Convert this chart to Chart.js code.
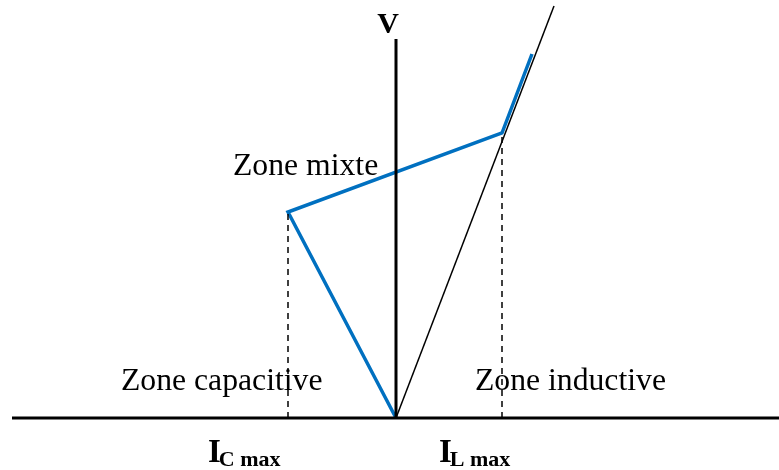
<!DOCTYPE html>
<html>
<head>
<meta charset="utf-8">
<script src="https://cdn.jsdelivr.net/npm/chart.js@4"></script>
<style>
  body { margin: 0; background: #fff; }
  #wrap { width: 779px; height: 470px; }
</style>
</head>
<body>
<div id="wrap"><canvas id="svc"></canvas></div>
<script>
// units: I (horizontal) and V (vertical), origin at the axes crossing
const characteristic = [
  { x: 0, y: 0 },
  { x: -1.08, y: 2.06 },
  { x: 1.06, y: 2.85 },
  { x: 1.36, y: 3.64 },
];
const inductorLine = [{ x: 0, y: 0 }, { x: 1.58, y: 4.12 }];
const iCmax = -1.08;
const iLmax = 1.06;
const vAtICmax = 2.06;
const vAtILmax = 2.85;
const iAxis = [{ x: -3.84, y: 0 }, { x: 3.83, y: 0 }];
const vAxis = [{ x: 0, y: 0 }, { x: 0, y: 3.79 }];

const zoneLabels = [
  { text: "Zone mixte", x: -1.63, y: 2.43 },
  { text: "Zone capacitive", x: -2.75, y: 0.28 },
  { text: "Zone inductive", x: 0.79, y: 0.28 },
];
const currentLabels = [
  { main: "I", sub: "C max", x: -1.88, y: -0.44 },
  { main: "I", sub: "L max", x: 0.43, y: -0.44 },
];
const axisName = { text: "V", x: -0.08, y: 3.85 };

const line = (data, color, width, dash) => ({
  data, showLine: true, borderColor: color, borderWidth: width,
  borderDash: dash || [], pointRadius: 0, fill: false, tension: 0,
});

const labelsPlugin = {
  id: "labels",
  afterDatasetsDraw(chart) {
    const { ctx, scales: { x, y } } = chart;
    ctx.save();
    ctx.fillStyle = "#000";
    ctx.textBaseline = "alphabetic";
    ctx.font = '31.7px "Liberation Serif"';
    zoneLabels.forEach((l) => ctx.fillText(l.text, x.getPixelForValue(l.x), y.getPixelForValue(l.y)));
    currentLabels.forEach((l) => {
      const px = x.getPixelForValue(l.x), py = y.getPixelForValue(l.y);
      ctx.font = 'bold 33px "Liberation Serif"';
      ctx.fillText(l.main, px, py);
      const w = ctx.measureText(l.main).width;
      ctx.font = 'bold 22px "Liberation Serif"';
      ctx.fillText(l.sub, px + w - 2, py + 4);
    });
    ctx.font = 'bold 30px "Liberation Serif"';
    ctx.textAlign = "center";
    ctx.fillText(axisName.text, x.getPixelForValue(axisName.x), y.getPixelForValue(axisName.y));
    ctx.restore();
  },
};

new Chart(document.getElementById("svc"), {
  type: "scatter",
  data: {
    datasets: [
      line([{ x: iCmax, y: 0 }, { x: iCmax, y: vAtICmax }], "#000", 1.5, [6, 5]),
      line([{ x: iLmax, y: 0 }, { x: iLmax, y: vAtILmax }], "#000", 1.5, [6, 5]),
      line(inductorLine, "#000", 1.5),
      line(iAxis, "#000", 3),
      line(vAxis, "#000", 3),
      line(characteristic, "#0070C0", 3.5),
    ],
  },
  options: {
    responsive: true,
    maintainAspectRatio: false,
    animation: false,
    layout: { padding: 0 },
    plugins: { legend: { display: false }, tooltip: { enabled: false } },
    scales: {
      x: { type: "linear", min: -3.96, max: 3.83, display: false },
      y: { type: "linear", min: -0.52, max: 4.18, display: false },
    },
  },
  plugins: [labelsPlugin],
});
</script>
</body>
</html>
